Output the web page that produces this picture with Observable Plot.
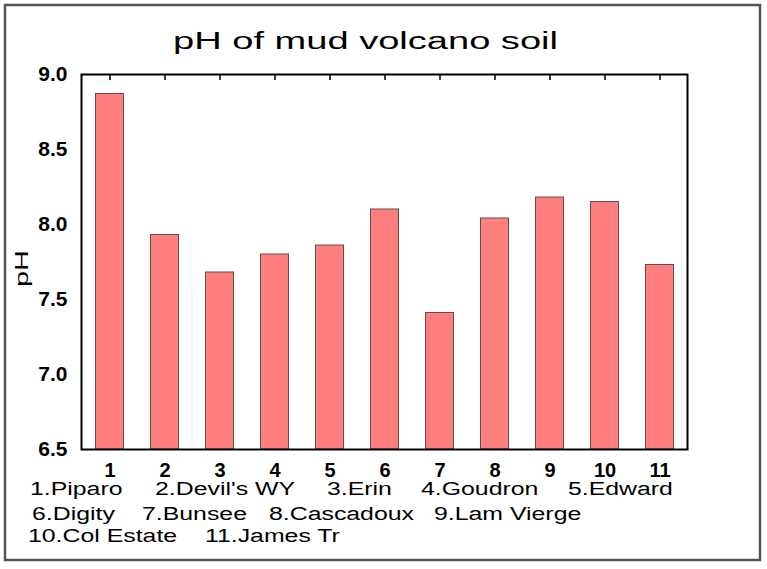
<!DOCTYPE html>
<html>
<head>
<meta charset="utf-8">
<script src="https://cdn.jsdelivr.net/npm/d3@7"></script>
<script src="https://cdn.jsdelivr.net/npm/@observablehq/plot@0.6"></script>
<style>
  html, body { margin: 0; padding: 0; background: #fff; }
  #chart { width: 767px; height: 569px; }
  svg { font-family: "Liberation Sans", Arial, sans-serif; }
</style>
</head>
<body>
<div id="chart"></div>
<script>
// ---- data ----
const sites = ["1", "2", "3", "4", "5", "6", "7", "8", "9", "10", "11"];
const siteNames = ["Piparo", "Devil's WY", "Erin", "Goudron", "Edward", "Digity",
                   "Bunsee", "Cascadoux", "Lam Vierge", "Col Estate", "James Tr"];
const phValues = [8.87, 7.93, 7.68, 7.80, 7.86, 8.10, 7.41, 8.04, 8.18, 8.15, 7.73];
const yTicks = [6.5, 7.0, 7.5, 8.0, 8.5, 9.0];
const yMin = 6.5, yMax = 9.0;
const titleText = "pH of mud volcano soil";
const yLabelText = "pH";

// legend layout (rows of site indices and their left positions)
const legendRows = [[0, 1, 2, 3, 4], [5, 6, 7, 8], [9, 10]];
const legendX = [[30, 155, 327, 421, 568], [32, 142, 269, 434], [28, 205]];
const legendBaseline = [495, 520, 542];

const data = sites.map((s, i) => ({site: s, ph: phValues[i]}));

const W = 767, H = 569;
const plot = Plot.plot({
  width: W,
  height: H,
  marginLeft: 81,
  marginRight: 80,
  marginTop: 74,
  marginBottom: 120,
  style: {fontFamily: '"Liberation Sans", Arial, sans-serif', background: "white", color: "black"},
  x: {type: "band", domain: sites, padding: 0},
  y: {domain: [yMin, yMax]},
  marks: [
    Plot.barY(data, {
      x: "site", y1: () => yMin, y2: "ph",
      fill: "#ff7f7f", stroke: "#6a4a4a", strokeWidth: 1,
      insetLeft: 13.5, insetRight: 13.5
    }),
    Plot.axisY({
      ticks: yTicks, tickFormat: d3.format(".1f"), tickSize: 0, tickPadding: 14,
      fontSize: 21, fontWeight: "bold", label: null
    }),
    Plot.axisX({
      anchor: "bottom", tickSize: 0, tickPadding: 13,
      fontSize: 20, fontWeight: "bold", label: null
    }),
    Plot.axisX({
      anchor: "top", tickSize: -5, tickFormat: () => "", label: null, strokeWidth: 1.5
    }),
    Plot.frame({stroke: "black", strokeWidth: 2})
  ]
});

document.getElementById("chart").appendChild(plot);

// ---- annotations: title, axis label, site legend, outer border ----
const svg = d3.select(plot);
const g = svg.append("g").attr("fill", "black").attr("text-anchor", "start");

g.append("rect")
  .attr("x", 5).attr("y", 5).attr("width", 755).attr("height", 555)
  .attr("fill", "none").attr("stroke", "#555").attr("stroke-width", 2.5);

g.append("text")
  .attr("x", 173).attr("y", 49)
  .attr("text-anchor", "start")
  .attr("font-size", 23)
  .attr("textLength", 385).attr("lengthAdjust", "spacingAndGlyphs")
  .text(titleText);

g.append("text")
  .attr("transform", "translate(28,268.5) rotate(-90)")
  .attr("text-anchor", "middle")
  .attr("font-size", 19)
  .attr("textLength", 37).attr("lengthAdjust", "spacingAndGlyphs")
  .text(yLabelText);

legendRows.forEach((row, r) => {
  row.forEach((idx, j) => {
    g.append("text")
      .attr("transform", `translate(${legendX[r][j]},${legendBaseline[r]}) scale(1.38,1)`)
      .attr("text-anchor", "start")
      .attr("font-size", 18)
      .text(`${sites[idx]}.${siteNames[idx]}`);
  });
});
</script>
</body>
</html>
